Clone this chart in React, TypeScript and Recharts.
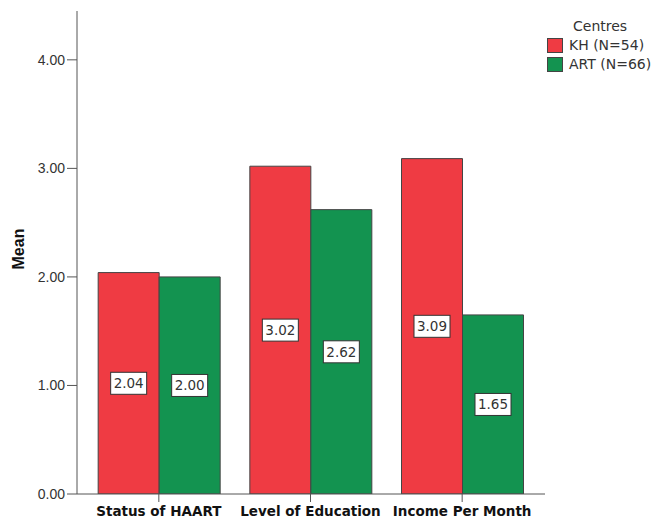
import { BarChart, Bar, XAxis, YAxis, LabelList } from "recharts";

const categories = ["Status of HAART", "Level of Education", "Income Per Month"];
const khValues = [2.04, 3.02, 3.09];
const artValues = [2.0, 2.62, 1.65];
const yTicks = [0, 1, 2, 3, 4];
const yTitle = "Mean";
const legendTitle = "Centres";
const seriesNames = ["KH (N=54)", "ART (N=66)"];

const RED = "#EF3B43";
const GREEN = "#139350";
const AXIS = "#555";

const data = categories.map((name, i) => ({
  name,
  kh: khValues[i],
  art: artValues[i],
}));

// white boxed value label, centred in the bar
const ValueBox = (props: any) => {
  const { x, y, width, height, value } = props;
  const cx = x + width / 2;
  const cy = y + height / 2;
  return (
    <g>
      <rect x={cx - 18} y={cy - 11} width={36} height={22} fill="#fff" stroke="#333" strokeWidth={1} />
      <text
        x={cx}
        y={cy + 1}
        textAnchor="middle"
        dominantBaseline="middle"
        style={{ fontFamily: "DejaVu Sans", fontSize: 13.5 }}
        fill="#333"
      >
        {Number(value).toFixed(2)}
      </text>
    </g>
  );
};

export default function App() {
  const colors = [RED, GREEN];
  return (
    <div style={{ position: "absolute", left: 0, top: 0, width: 653, height: 520, background: "#fff" }}>
      <BarChart
        width={653}
        height={520}
        data={data}
        margin={{ top: 11, right: 108, bottom: 0, left: 0 }}
        barCategoryGap="10%"
        barGap={0}
      >
        <XAxis
          dataKey="name"
          height={26}
          padding={{ left: 6, right: 7 }}
          axisLine={{ stroke: AXIS }}
          tickLine={{ stroke: AXIS }}
          tickSize={8}
          tickMargin={4}
          tick={{ fontFamily: "DejaVu Sans", fontWeight: "bold", fontSize: 13.5, fill: "#111" }}
        />
        <XAxis xAxisId="top" dataKey="name" orientation="top" height={0} tick={false} tickLine={false} axisLine={{ stroke: "#888" }} />
        <YAxis
          width={77}
          domain={[0, 4.45]}
          ticks={yTicks}
          allowDataOverflow
          tickFormatter={(v: number) => v.toFixed(2)}
          axisLine={{ stroke: AXIS }}
          tickLine={{ stroke: AXIS }}
          tickSize={10}
          tickMargin={2}
          tick={{ fontFamily: "Liberation Sans", fontSize: 14, fill: "#333", style: { fontSize: 14 } }}
        />
        <YAxis yAxisId="right" orientation="right" width={0} tick={false} tickLine={false} axisLine={{ stroke: "#888" }} />
        <Bar dataKey="kh" fill={RED} stroke="#444" strokeWidth={1} isAnimationActive={false}>
          <LabelList dataKey="kh" content={ValueBox} />
        </Bar>
        <Bar dataKey="art" fill={GREEN} stroke="#444" strokeWidth={1} isAnimationActive={false}>
          <LabelList dataKey="art" content={ValueBox} />
        </Bar>
      </BarChart>

      {/* y axis title */}
      <div
        style={{
          position: "absolute",
          left: 19,
          top: 249,
          transform: "translate(-50%, -50%) rotate(-90deg)",
          fontFamily: "Liberation Sans",
          fontWeight: "bold",
          fontSize: 16,
          color: "#111",
          whiteSpace: "nowrap",
          lineHeight: 1,
        }}
      >
        {yTitle}
      </div>

      <div
        style={{
          position: "absolute",
          left: 547,
          top: 17,
          fontFamily: "DejaVu Sans",
          fontSize: 14,
          color: "#333",
          lineHeight: "19px",
        }}
      >
        <div style={{ paddingLeft: 26 }}>{legendTitle}</div>
        {seriesNames.map((s, i) => (
          <div key={s} style={{ display: "flex", alignItems: "center", height: 19 }}>
            <div
              style={{
                width: 14,
                height: 13,
                background: colors[i],
                border: "1px solid #444",
                marginRight: 6,
              }}
            />
            <span>{s}</span>
          </div>
        ))}
      </div>
    </div>
  );
}
